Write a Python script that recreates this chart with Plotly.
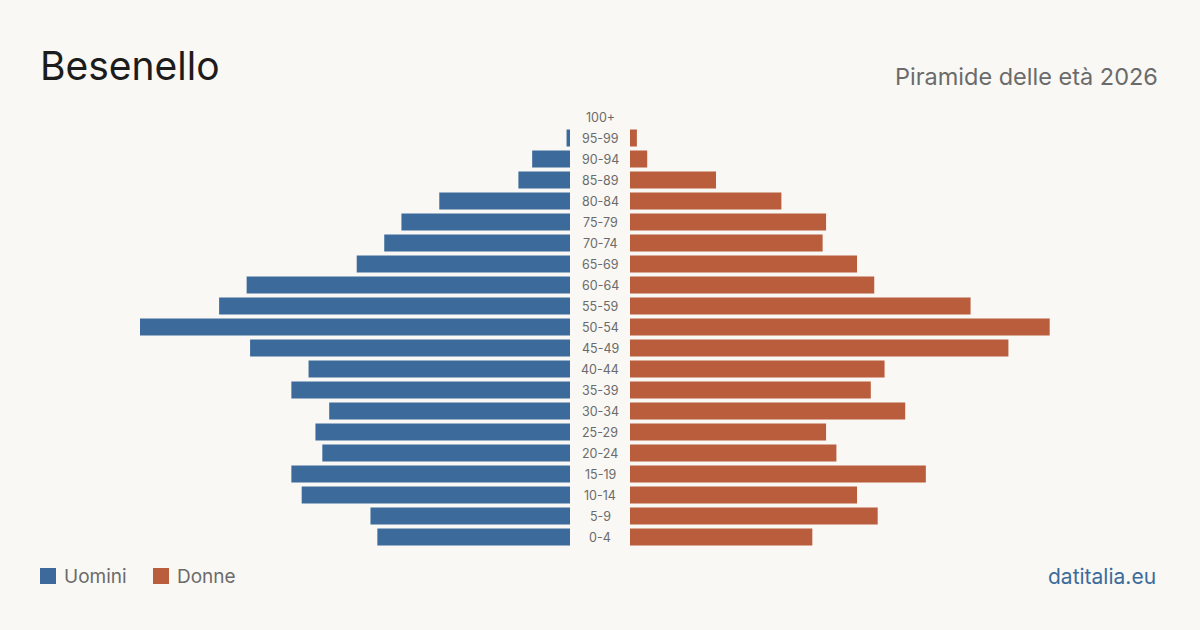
import plotly.graph_objects as go

age_groups = ["0-4", "5-9", "10-14", "15-19", "20-24", "25-29", "30-34", "35-39",
              "40-44", "45-49", "50-54", "55-59", "60-64", "65-69", "70-74", "75-79",
              "80-84", "85-89", "90-94", "95-99", "100+"]
men = [56, 58, 78, 81, 72, 74, 70, 81, 76, 93, 125, 102, 94, 62, 54, 49, 38, 15, 11, 1, 0]
women = [53, 72, 66, 86, 60, 57, 80, 70, 74, 110, 122, 99, 71, 66, 56, 57, 44, 25, 5, 2, 0]

title = "Besenello"
subtitle = "Piramide delle età 2026"
legend_names = ["Uomini", "Donne"]
source = "datitalia.eu"

BLUE = "#3c6b9b"
ORANGE = "#b95d3c"
BG = "#f9f8f4"
W, H = 1200, 630
FONT = "Inter"

xmax = max(max(men), max(women))
ypos = list(range(len(age_groups)))

fig = go.Figure()
fig.add_trace(go.Bar(x=men, y=ypos, orientation="h", marker=dict(color=BLUE, line=dict(width=0)),
                     name=legend_names[0], xaxis="x", yaxis="y", showlegend=False))
fig.add_trace(go.Bar(x=women, y=ypos, orientation="h", marker=dict(color=ORANGE, line=dict(width=0)),
                     name=legend_names[1], xaxis="x2", yaxis="y", showlegend=False))

def px(x):
    return x / W

def py(y):
    return 1 - y / H

row_h = 21
top_center = 117
bottom_center = top_center + row_h * (len(age_groups) - 1)
y_top = top_center - row_h / 2
y_bot = bottom_center + row_h / 2

half = 430
fig.update_layout(
    width=W, height=H,
    margin=dict(l=0, r=0, t=0, b=0),
    paper_bgcolor=BG, plot_bgcolor=BG,
    bargap=0.19,
    font=dict(family=FONT),
    xaxis=dict(domain=[px(570 - half), px(570)], range=[xmax, 0], visible=False, fixedrange=True),
    xaxis2=dict(domain=[px(630), px(630 + half)], range=[0, xmax], visible=False, fixedrange=True),
    yaxis=dict(domain=[py(y_bot), py(y_top)], range=[-0.5, len(age_groups) - 0.5], visible=False),
)

annotations = []
for i, lab in enumerate(age_groups):
    annotations.append(dict(x=0.5, y=i, xref="paper", yref="y", text=lab, showarrow=False,
                            font=dict(size=12.5, color="#6b6b6b", family=FONT),
                            xanchor="center", yanchor="middle"))
annotations.append(dict(x=px(38), y=py(66), xref="paper", yref="paper", text=title, showarrow=False,
                        font=dict(size=39, color="#1c1c1c", family=FONT), xanchor="left", yanchor="middle"))
annotations.append(dict(x=px(1160), y=py(76), xref="paper", yref="paper", text=subtitle, showarrow=False,
                        font=dict(size=23.5, color="#6b6b6b", family=FONT), xanchor="right", yanchor="middle"))
annotations.append(dict(x=px(62), y=py(576), xref="paper", yref="paper", text=legend_names[0], showarrow=False,
                        font=dict(size=19, color="#6b6b6b", family=FONT), xanchor="left", yanchor="middle"))
annotations.append(dict(x=px(175), y=py(576), xref="paper", yref="paper", text=legend_names[1], showarrow=False,
                        font=dict(size=19, color="#6b6b6b", family=FONT), xanchor="left", yanchor="middle"))
annotations.append(dict(x=px(1158), y=py(576), xref="paper", yref="paper", text=source, showarrow=False,
                        font=dict(size=21, color=BLUE, family=FONT), xanchor="right", yanchor="middle"))

shapes = [
    dict(type="rect", xref="paper", yref="paper", x0=px(40), x1=px(56), y0=py(584), y1=py(568),
         fillcolor=BLUE, line=dict(width=0)),
    dict(type="rect", xref="paper", yref="paper", x0=px(153), x1=px(169), y0=py(584), y1=py(568),
         fillcolor=ORANGE, line=dict(width=0)),
]
fig.update_layout(annotations=annotations, shapes=shapes)

fig.write_html("out.html", config={"displayModeBar": False})
